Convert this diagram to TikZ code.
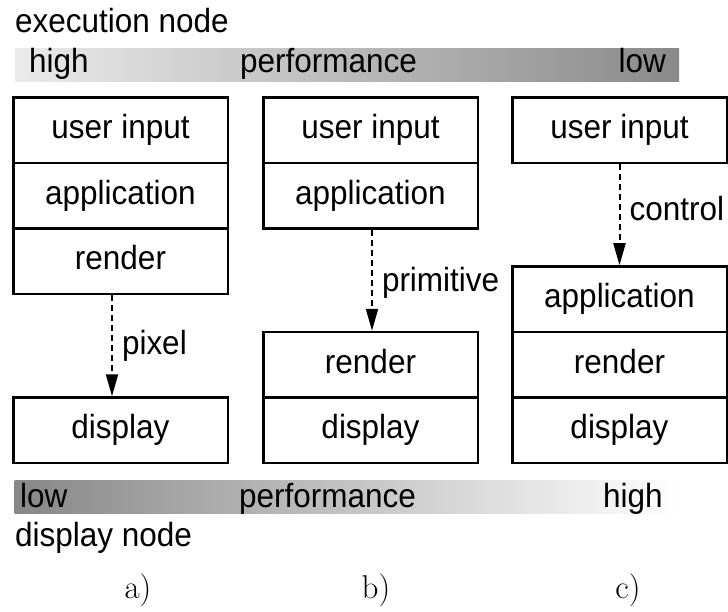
\documentclass[tikz,border=0pt]{standalone}
\usepackage{fontspec}
\setmainfont{Liberation Sans}[FakeStretch=0.94]
\newfontfamily\lmroman{Latin Modern Roman}
\usetikzlibrary{arrows.meta}
\tikzset{
  textfont/.style={font=\fontsize{33.5}{38}\selectfont},
  layer/.style={draw=black, line width=2.5pt, minimum width=214.5pt,
    minimum height=65.5pt, inner sep=0pt, textfont,
    text height=24pt, text depth=7pt},
  flow/.style={line width=2pt, dash pattern=on 6pt off 4pt,
    -{Triangle[length=22pt,width=12pt]}},
  flowlabel/.style={anchor=west, inner sep=0pt, xshift=9pt, textfont,
    text height=24pt, text depth=7pt},
  caption/.style={anchor=base west, inner sep=0pt, textfont},
  barlabel/.style={anchor=base west, inner sep=0pt, textfont},
  bar/.style={minimum width=664pt, minimum height=33pt, inner sep=0pt},
  sublabel/.style={anchor=base, inner sep=0pt,
    font=\lmroman\fontsize{33}{38}\selectfont},
}
\begin{document}
\begin{tikzpicture}[x=1pt, y=-1pt]
\useasboundingbox (0,0) rectangle (728,612);

% execution node side: performance scale
\node[caption] (exec) at (15,33) {execution node};
\node[bar, left color=black!8, right color=black!46] (topbar) at (347,65.5) {};
\node[barlabel] (tophigh) at (29,73) {high};
\node[barlabel] (topperf) at (240,73) {performance};
\node[barlabel, anchor=base east] (toplow) at (666,73) {low};

% a) everything on the execution node
\node[layer] (ainput) at (120.5,130.25) {user input};
\node[layer] (aapp)   at (120.5,195.75) {application};
\node[layer] (arend)  at (120.5,261.25) {render};
\node[layer] (adisp)  at (120.5,430.25) {display};
\draw[flow] ([xshift=-8.5pt]arend.south) -- ([xshift=-8.5pt]adisp.north)
  node[flowlabel, midway] (apix) {pixel};

% b) rendering on the display node
\node[layer] (binput) at (370.5,130.25) {user input};
\node[layer] (bapp)   at (370.5,195.75) {application};
\node[layer] (brend)  at (370.5,364.75) {render};
\node[layer] (bdisp)  at (370.5,430.25) {display};
\draw[flow] ([xshift=1.5pt]bapp.south) -- ([xshift=1.5pt]brend.north)
  node[flowlabel, pos=0.53] (bprim) {primitive};

% c) only input on the execution node
\node[layer] (cinput) at (619.5,130.25) {user input};
\node[layer] (capp)   at (619.5,299.25) {application};
\node[layer] (crend)  at (619.5,364.75) {render};
\node[layer] (cdisp)  at (619.5,430.25) {display};
\draw[flow] (cinput.south) -- (capp.north)
  node[flowlabel, pos=0.47] (cctl) {control};

% display node side: performance scale
\node[bar, left color=black!47, right color=white] (botbar) at (346.5,496.5) {};
\node[barlabel] (botlow) at (20,507) {low};
\node[barlabel] (botperf) at (239,507) {performance};
\node[barlabel] (bothigh) at (603,507) {high};
\node[caption] (disp) at (15,546) {display node};

% sub-figure labels
\node[sublabel] (la) at (138,598) {a)};
\node[sublabel] (lb) at (376,598) {b)};
\node[sublabel] (lc) at (628,598) {c)};
\end{tikzpicture}
\end{document}
